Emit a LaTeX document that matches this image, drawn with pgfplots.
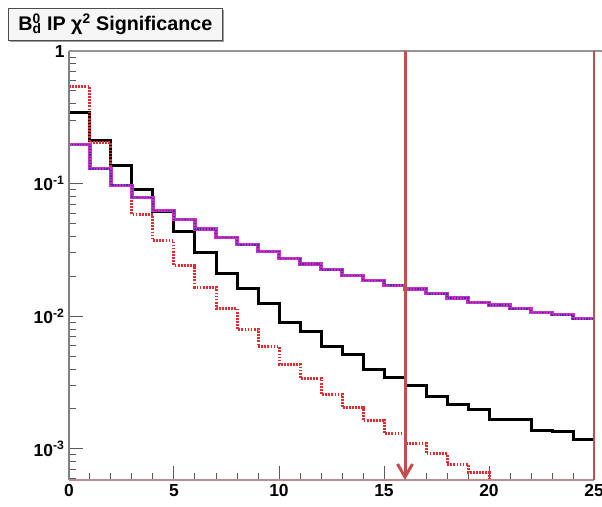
\documentclass[border=0pt]{standalone}
\usepackage{fontspec}
\setmainfont{Liberation Sans}
\usepackage{pgfplots}
\pgfplotsset{compat=1.18}
\usetikzlibrary{arrows.meta,shadows}
\definecolor{arrowred}{RGB}{192,80,77}
\definecolor{histred}{RGB}{225,45,50}
\definecolor{histmag}{RGB}{200,50,195}
\definecolor{histblue}{RGB}{80,40,170}
\definecolor{framegray}{RGB}{128,128,128}
\definecolor{bottomline}{RGB}{190,140,140}

\begin{document}
\begin{tikzpicture}
\begin{axis}[
  at={(0,0)}, anchor=south west,
  scale only axis, width=525bp, height=429bp,
  xmin=0, xmax=25, ymin=5.83e-4, ymax=1,
  ymode=log,
  axis line style={draw=none},
  tick pos=left, tick align=inside,
  xtick={0,5,10,15,20,25}, xticklabels={0,5,10,15,20,25},
  minor xtick={1,2,3,4,6,7,8,9,11,12,13,14,16,17,18,19,21,22,23,24},
  ytick={1e-3,1e-2,1e-1,1},
  yticklabels={10\textsuperscript{-3},10\textsuperscript{-2},10\textsuperscript{-1},1},
  minor ytick={6e-4,7e-4,8e-4,9e-4,2e-3,3e-3,4e-3,5e-3,6e-3,7e-3,8e-3,9e-3,2e-2,3e-2,4e-2,5e-2,6e-2,7e-2,8e-2,9e-2,0.2,0.3,0.4,0.5,0.6,0.7,0.8,0.9},
  major tick length=14bp, minor tick length=7bp,
  tick style={framegray!70!black, line width=1bp},
  ticklabel style={font=\bfseries\fontsize{17.5}{17.5}\selectfont},
  xticklabel style={yshift=-1bp},
  yticklabel style={xshift=-1bp},
  clip mode=individual,
]
% black solid
\addplot[const plot, black, line width=3bp] coordinates {
(0,0.342) (1,0.212) (2,0.137) (3,0.0896) (4,0.0618) (5,0.0432) (6,0.0300) (7,0.0209)
(8,0.0163) (9,0.0124) (10,0.00904) (11,0.00768) (12,0.00591) (13,0.00512) (14,0.00400)
(15,0.00345) (16,0.00299) (17,0.00248) (18,0.00218) (19,0.00199) (20,0.00166) (21,0.00166)
(22,0.00137) (23,0.00135) (24,0.00118) (25,0.00118)};
% red dotted
\addplot[const plot, histred, line width=3bp, dash pattern=on 1.7bp off 1.4bp] coordinates {
(0,0.543) (1,0.203) (2,0.0966) (3,0.0583) (4,0.0371) (5,0.0241) (6,0.0166) (7,0.0115)
(8,0.0080) (9,0.00592) (10,0.00436) (11,0.00342) (12,0.00259) (13,0.00205) (14,0.00163)
(15,0.00131) (16,0.00110) (17,0.000917) (18,0.000766) (19,0.000662) (20,0.000583) (21,0.000583)
(22,0.000583) (23,0.000583) (24,0.000583) (25,0.000583)};
% magenta solid
\addplot[const plot, histmag, line width=3.2bp] coordinates {
(0,0.197) (1,0.1293) (2,0.0974) (3,0.0784) (4,0.0629) (5,0.0535) (6,0.0455) (7,0.0393)
(8,0.0346) (9,0.0308) (10,0.0272) (11,0.0248) (12,0.02244) (13,0.02032) (14,0.01863)
(15,0.01714) (16,0.01607) (17,0.01478) (18,0.01372) (19,0.01271) (20,0.01215) (21,0.01139)
(22,0.01068) (23,0.01026) (24,0.00957) (25,0.00957)};
% blue dotted
\addplot[const plot, histblue, line width=1.6bp, dash pattern=on 1.2bp off 1.6bp] coordinates {
(0,0.197) (1,0.1293) (2,0.0974) (3,0.0784) (4,0.0629) (5,0.0535) (6,0.0455) (7,0.0393)
(8,0.0346) (9,0.0308) (10,0.0272) (11,0.0248) (12,0.02244) (13,0.02032) (14,0.01863)
(15,0.01714) (16,0.01607) (17,0.01478) (18,0.01372) (19,0.01271) (20,0.01215) (21,0.01139)
(22,0.01068) (23,0.01026) (24,0.00957) (25,0.00957)};
% frame
\draw[framegray, line width=1.5bp] (rel axis cs:0,0) -- (rel axis cs:0,1);
\draw[framegray!85, line width=2.2bp] (rel axis cs:0,1) -- (rel axis cs:1.02,1);
\draw[bottomline, line width=1.5bp] (rel axis cs:0,0) -- (rel axis cs:1,0);
\draw[arrowred, line width=2bp] (rel axis cs:1,0) -- (rel axis cs:1,1);
% cut arrow
\draw[arrowred, line width=3bp, -{Straight Barb[length=13bp,width=15bp,line width=3bp]}] (axis cs:16,1) -- (axis cs:16,5.83e-4);
% title box
\node[anchor=north west, fill=gray!7, draw=gray!60!black, line width=0.8bp,
  drop shadow={shadow xshift=1.5bp, shadow yshift=-1.8bp, fill=gray!75, opacity=1},
  minimum width=214bp, minimum height=32bp, inner sep=0pt,
  font=\bfseries\fontsize{19.8}{21}\selectfont]
  at (rel axis cs:-0.1162,1.1002)
  {B\rlap{\textsuperscript{0}}\textsubscript{d} IP χ\textsuperscript{2} Significance};
\end{axis}
\pgfresetboundingbox
\path[use as bounding box] (-69bp,-27bp) rectangle (533bp,480bp);
\end{tikzpicture}
\end{document}
